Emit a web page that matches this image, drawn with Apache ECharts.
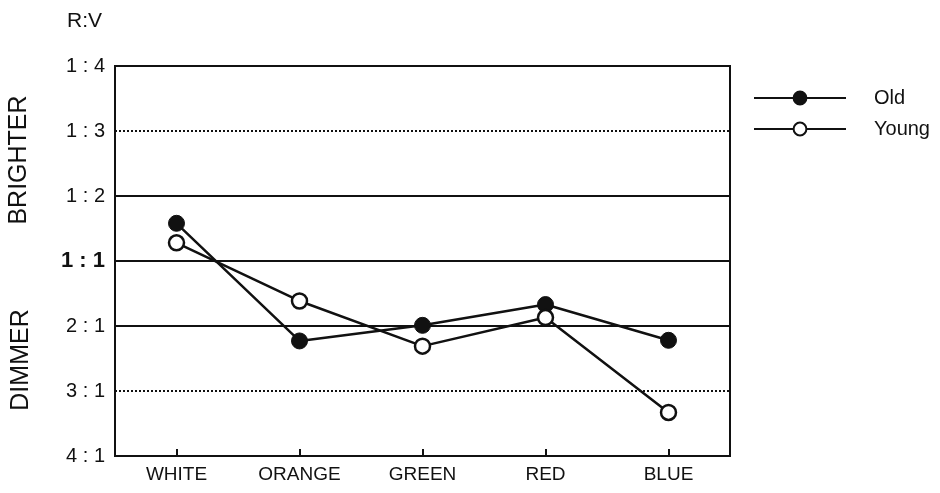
<!DOCTYPE html>
<html>
<head>
<meta charset="utf-8">
<script src="https://cdn.jsdelivr.net/npm/echarts@6/dist/echarts.min.js"></script>
<style>
html,body{margin:0;padding:0;background:#fff;}
#chart{width:940px;height:493px;}
</style>
</head>
<body>
<div id="chart"></div>
<script>
// Categories (stimulus colours)
var categories = ['WHITE', 'ORANGE', 'GREEN', 'RED', 'BLUE'];
// Y scale: 0 = 1:1, positive = brighter (1:n), negative = dimmer (n:1)
var yTickValues = [-3, -2, -1, 0, 1, 2, 3];
var yTickLabels = ['4 : 1', '3 : 1', '2 : 1', '1 : 1', '1 : 2', '1 : 3', '1 : 4'];
// Series values
var oldValues = [0.58, -1.23, -0.99, -0.67, -1.22];
var youngValues = [0.28, -0.615, -1.31, -0.87, -2.33];
// Horizontal reference lines
var refLevels = [2, 1, 0, -1, -2];
var refStyles = ['dotted', 'solid', 'solid', 'solid', 'dotted'];

var chart = echarts.init(document.getElementById('chart'), null, {renderer: 'canvas'});
var FONT = '"Liberation Sans", Arial, Helvetica, sans-serif';
var INK = '#111';

function labelFor(v) {
  var i = yTickValues.indexOf(Math.round(v));
  return i >= 0 ? yTickLabels[i] : '';
}

var refData = refLevels.map(function (lv, i) {
  return {
    yAxis: lv,
    lineStyle: {
      color: INK,
      width: 2,
      type: refStyles[i] === 'dotted' ? [2, 2] : 'solid'
    }
  };
});

chart.setOption({
  animation: false,
  backgroundColor: '#fff',
  grid: {
    left: 115, right: 210, top: 66, bottom: 37,
    show: true, borderColor: INK, borderWidth: 2, backgroundColor: 'transparent'
  },
  legend: {
    orient: 'vertical',
    left: 753, top: 88, padding: 0,
    itemWidth: 92, itemHeight: 16, itemGap: 11,
    textStyle: {fontFamily: FONT, fontSize: 20, lineHeight: 16, color: INK, padding: [0, 0, 0, 23]},
    data: ['Old', 'Young']
  },
  xAxis: {
    type: 'category',
    data: categories,
    boundaryGap: true,
    axisLine: {onZero: false, lineStyle: {color: INK, width: 2}},
    axisTick: {show: true, alignWithLabel: true, inside: true, length: 7, lineStyle: {color: INK, width: 2}},
    axisLabel: {fontFamily: FONT, fontSize: 19, color: INK, margin: 9}
  },
  yAxis: {
    type: 'value',
    min: -3, max: 3, interval: 1,
    axisLine: {show: true, lineStyle: {color: INK, width: 2}},
    axisTick: {show: false},
    splitLine: {show: false},
    axisLabel: {
      fontFamily: FONT, fontSize: 20, color: INK, margin: 10,
      formatter: function (v) {
        var t = labelFor(v);
        return v === 0 ? '{b|' + t + '}' : t;
      },
      rich: {b: {fontFamily: FONT, fontSize: 22, fontWeight: 'bold', color: INK}}
    }
  },
  graphic: [
    {type: 'text', left: 67, top: 11, style: {text: 'R:V', font: '21px ' + FONT, fill: INK}},
    {type: 'text', x: 19, y: 160, rotation: Math.PI / 2, style: {text: 'BRIGHTER', font: '25px ' + FONT, fill: INK, align: 'center', verticalAlign: 'middle'}},
    {type: 'text', x: 21, y: 360, rotation: Math.PI / 2, style: {text: 'DIMMER', font: '25px ' + FONT, fill: INK, align: 'center', verticalAlign: 'middle'}}
  ],
  series: [
    {
      name: 'ref', type: 'line', data: [null, null, null, null, null], z: 1,
      silent: true, showSymbol: false, legendHoverLink: false,
      markLine: {silent: true, symbol: 'none', label: {show: false}, data: refData}
    },
    {
      name: 'Old', type: 'line', data: oldValues, z: 5,
      symbol: 'circle', symbolSize: 16, showAllSymbol: true,
      lineStyle: {color: INK, width: 2.5},
      itemStyle: {color: INK, borderColor: INK, borderWidth: 1}
    },
    {
      name: 'Young', type: 'line', data: youngValues, z: 6,
      symbol: 'circle', symbolSize: 15, showAllSymbol: true,
      lineStyle: {color: INK, width: 2.5},
      itemStyle: {color: '#fff', borderColor: INK, borderWidth: 2.5}
    }
  ]
});
</script>
</body>
</html>
